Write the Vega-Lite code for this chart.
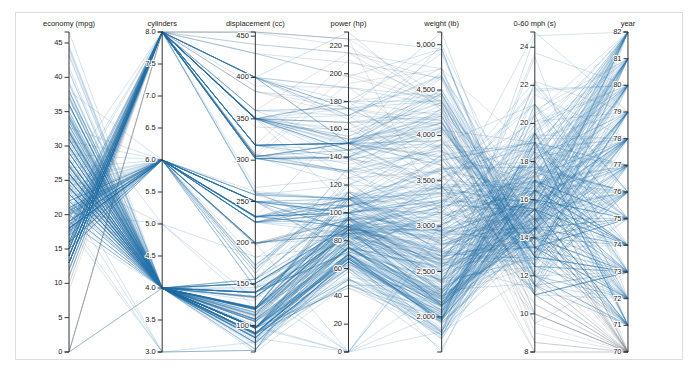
{
  "$schema": "https://vega.github.io/schema/vega-lite/v6.json",
  "width": 667,
  "height": 347,
  "autosize": "none",
  "padding": {"left": 15, "top": 12, "right": 18, "bottom": 10},
  "background": "white",
  "config": {"view": {"stroke": "#dddddd", "strokeWidth": 1}},
  "datasets": {
    "dims": [
      {"f": "mpg", "title": "economy (mpg)", "idx": 0, "min": 0, "max": 46.6},
      {"f": "cyl", "title": "cylinders", "idx": 1, "min": 3, "max": 8},
      {"f": "disp", "title": "displacement (cc)", "idx": 2, "min": 68, "max": 455},
      {"f": "hp", "title": "power (hp)", "idx": 3, "min": 0, "max": 230},
      {"f": "wt", "title": "weight (lb)", "idx": 4, "min": 1613, "max": 5140},
      {"f": "acc", "title": "0-60 mph (s)", "idx": 5, "min": 8, "max": 24.8},
      {"f": "yr", "title": "year", "idx": 6, "min": 70, "max": 82}
    ],
    "ticks": [
      {"f": "mpg", "v": 0}, {"f": "mpg", "v": 5}, {"f": "mpg", "v": 10}, {"f": "mpg", "v": 15}, {"f": "mpg", "v": 20}, {"f": "mpg", "v": 25}, {"f": "mpg", "v": 30}, {"f": "mpg", "v": 35}, {"f": "mpg", "v": 40}, {"f": "mpg", "v": 45},
      {"f": "cyl", "v": 3}, {"f": "cyl", "v": 3.5}, {"f": "cyl", "v": 4}, {"f": "cyl", "v": 4.5}, {"f": "cyl", "v": 5}, {"f": "cyl", "v": 5.5}, {"f": "cyl", "v": 6}, {"f": "cyl", "v": 6.5}, {"f": "cyl", "v": 7}, {"f": "cyl", "v": 7.5}, {"f": "cyl", "v": 8},
      {"f": "disp", "v": 100}, {"f": "disp", "v": 150}, {"f": "disp", "v": 200}, {"f": "disp", "v": 250}, {"f": "disp", "v": 300}, {"f": "disp", "v": 350}, {"f": "disp", "v": 400}, {"f": "disp", "v": 450},
      {"f": "hp", "v": 0}, {"f": "hp", "v": 20}, {"f": "hp", "v": 40}, {"f": "hp", "v": 60}, {"f": "hp", "v": 80}, {"f": "hp", "v": 100}, {"f": "hp", "v": 120}, {"f": "hp", "v": 140}, {"f": "hp", "v": 160}, {"f": "hp", "v": 180}, {"f": "hp", "v": 200}, {"f": "hp", "v": 220},
      {"f": "wt", "v": 2000}, {"f": "wt", "v": 2500}, {"f": "wt", "v": 3000}, {"f": "wt", "v": 3500}, {"f": "wt", "v": 4000}, {"f": "wt", "v": 4500}, {"f": "wt", "v": 5000},
      {"f": "acc", "v": 8}, {"f": "acc", "v": 10}, {"f": "acc", "v": 12}, {"f": "acc", "v": 14}, {"f": "acc", "v": 16}, {"f": "acc", "v": 18}, {"f": "acc", "v": 20}, {"f": "acc", "v": 22}, {"f": "acc", "v": 24},
      {"f": "yr", "v": 70}, {"f": "yr", "v": 71}, {"f": "yr", "v": 72}, {"f": "yr", "v": 73}, {"f": "yr", "v": 74}, {"f": "yr", "v": 75}, {"f": "yr", "v": 76}, {"f": "yr", "v": 77}, {"f": "yr", "v": 78}, {"f": "yr", "v": 79}, {"f": "yr", "v": 80}, {"f": "yr", "v": 81}, {"f": "yr", "v": 82}
    ],
    "cars": [
      {"mpg":18,"cyl":8,"disp":307,"hp":130,"wt":3504,"acc":12,"yr":70},
      {"mpg":15,"cyl":8,"disp":350,"hp":165,"wt":3693,"acc":11.5,"yr":70},
      {"mpg":18,"cyl":8,"disp":318,"hp":150,"wt":3436,"acc":11,"yr":70},
      {"mpg":16,"cyl":8,"disp":304,"hp":150,"wt":3433,"acc":12,"yr":70},
      {"mpg":17,"cyl":8,"disp":302,"hp":140,"wt":3449,"acc":10.5,"yr":70},
      {"mpg":15,"cyl":8,"disp":429,"hp":198,"wt":4341,"acc":10,"yr":70},
      {"mpg":14,"cyl":8,"disp":454,"hp":220,"wt":4354,"acc":9,"yr":70},
      {"mpg":14,"cyl":8,"disp":440,"hp":215,"wt":4312,"acc":8.5,"yr":70},
      {"mpg":14,"cyl":8,"disp":455,"hp":225,"wt":4425,"acc":10,"yr":70},
      {"mpg":15,"cyl":8,"disp":390,"hp":190,"wt":3850,"acc":8.5,"yr":70},
      {"mpg":0,"cyl":4,"disp":133,"hp":115,"wt":3090,"acc":17.5,"yr":70},
      {"mpg":0,"cyl":8,"disp":350,"hp":165,"wt":4142,"acc":11.5,"yr":70},
      {"mpg":0,"cyl":8,"disp":351,"hp":153,"wt":4034,"acc":11,"yr":70},
      {"mpg":0,"cyl":8,"disp":383,"hp":175,"wt":4166,"acc":10.5,"yr":70},
      {"mpg":0,"cyl":8,"disp":360,"hp":175,"wt":3850,"acc":11,"yr":70},
      {"mpg":15,"cyl":8,"disp":383,"hp":170,"wt":3563,"acc":10,"yr":70},
      {"mpg":14,"cyl":8,"disp":340,"hp":160,"wt":3609,"acc":8,"yr":70},
      {"mpg":0,"cyl":8,"disp":302,"hp":140,"wt":3353,"acc":8,"yr":70},
      {"mpg":15,"cyl":8,"disp":400,"hp":150,"wt":3761,"acc":9.5,"yr":70},
      {"mpg":14,"cyl":8,"disp":455,"hp":225,"wt":3086,"acc":10,"yr":70},
      {"mpg":24,"cyl":4,"disp":113,"hp":95,"wt":2372,"acc":15,"yr":70},
      {"mpg":22,"cyl":6,"disp":198,"hp":95,"wt":2833,"acc":15.5,"yr":70},
      {"mpg":18,"cyl":6,"disp":199,"hp":97,"wt":2774,"acc":15.5,"yr":70},
      {"mpg":21,"cyl":6,"disp":200,"hp":85,"wt":2587,"acc":16,"yr":70},
      {"mpg":27,"cyl":4,"disp":97,"hp":88,"wt":2130,"acc":14.5,"yr":70},
      {"mpg":26,"cyl":4,"disp":97,"hp":46,"wt":1835,"acc":20.5,"yr":70},
      {"mpg":25,"cyl":4,"disp":110,"hp":87,"wt":2672,"acc":17.5,"yr":70},
      {"mpg":24,"cyl":4,"disp":107,"hp":90,"wt":2430,"acc":14.5,"yr":70},
      {"mpg":25,"cyl":4,"disp":104,"hp":95,"wt":2375,"acc":17.5,"yr":70},
      {"mpg":26,"cyl":4,"disp":121,"hp":113,"wt":2234,"acc":12.5,"yr":70},
      {"mpg":21,"cyl":6,"disp":199,"hp":90,"wt":2648,"acc":15,"yr":70},
      {"mpg":10,"cyl":8,"disp":360,"hp":215,"wt":4615,"acc":14,"yr":70},
      {"mpg":10,"cyl":8,"disp":307,"hp":200,"wt":4376,"acc":15,"yr":70},
      {"mpg":11,"cyl":8,"disp":318,"hp":210,"wt":4382,"acc":13.5,"yr":70},
      {"mpg":9,"cyl":8,"disp":304,"hp":193,"wt":4732,"acc":18.5,"yr":70},
      {"mpg":27,"cyl":4,"disp":97,"hp":88,"wt":2130,"acc":14.5,"yr":71},
      {"mpg":28,"cyl":4,"disp":140,"hp":90,"wt":2264,"acc":15.5,"yr":71},
      {"mpg":25,"cyl":4,"disp":113,"hp":95,"wt":2228,"acc":14,"yr":71},
      {"mpg":25,"cyl":4,"disp":98,"hp":0,"wt":2046,"acc":19,"yr":71},
      {"mpg":0,"cyl":4,"disp":97,"hp":48,"wt":1978,"acc":20,"yr":71},
      {"mpg":19,"cyl":6,"disp":232,"hp":100,"wt":2634,"acc":13,"yr":71},
      {"mpg":16,"cyl":6,"disp":225,"hp":105,"wt":3439,"acc":15.5,"yr":71},
      {"mpg":17,"cyl":6,"disp":250,"hp":100,"wt":3329,"acc":15.5,"yr":71},
      {"mpg":19,"cyl":6,"disp":250,"hp":88,"wt":3302,"acc":15.5,"yr":71},
      {"mpg":18,"cyl":6,"disp":232,"hp":100,"wt":3288,"acc":15.5,"yr":71},
      {"mpg":14,"cyl":8,"disp":350,"hp":165,"wt":4209,"acc":12,"yr":71},
      {"mpg":14,"cyl":8,"disp":400,"hp":175,"wt":4464,"acc":11.5,"yr":71},
      {"mpg":14,"cyl":8,"disp":351,"hp":153,"wt":4154,"acc":13.5,"yr":71},
      {"mpg":14,"cyl":8,"disp":318,"hp":150,"wt":4096,"acc":13,"yr":71},
      {"mpg":12,"cyl":8,"disp":383,"hp":180,"wt":4955,"acc":11.5,"yr":71},
      {"mpg":13,"cyl":8,"disp":400,"hp":170,"wt":4746,"acc":12,"yr":71},
      {"mpg":13,"cyl":8,"disp":400,"hp":175,"wt":5140,"acc":12,"yr":71},
      {"mpg":18,"cyl":6,"disp":258,"hp":110,"wt":2962,"acc":13.5,"yr":71},
      {"mpg":22,"cyl":4,"disp":140,"hp":72,"wt":2408,"acc":19,"yr":71},
      {"mpg":19,"cyl":6,"disp":250,"hp":100,"wt":3282,"acc":15,"yr":71},
      {"mpg":18,"cyl":6,"disp":250,"hp":88,"wt":3139,"acc":14.5,"yr":71},
      {"mpg":23,"cyl":4,"disp":122,"hp":86,"wt":2220,"acc":14,"yr":71},
      {"mpg":28,"cyl":4,"disp":116,"hp":90,"wt":2123,"acc":14,"yr":71},
      {"mpg":30,"cyl":4,"disp":79,"hp":70,"wt":2074,"acc":19.5,"yr":71},
      {"mpg":30,"cyl":4,"disp":88,"hp":76,"wt":2065,"acc":14.5,"yr":71},
      {"mpg":31,"cyl":4,"disp":71,"hp":65,"wt":1773,"acc":19,"yr":71},
      {"mpg":35,"cyl":4,"disp":72,"hp":69,"wt":1613,"acc":18,"yr":71},
      {"mpg":27,"cyl":4,"disp":97,"hp":60,"wt":1834,"acc":19,"yr":71},
      {"mpg":26,"cyl":4,"disp":91,"hp":70,"wt":1955,"acc":20.5,"yr":71},
      {"mpg":24,"cyl":4,"disp":113,"hp":95,"wt":2278,"acc":15.5,"yr":72},
      {"mpg":25,"cyl":4,"disp":97.5,"hp":80,"wt":2126,"acc":17,"yr":72},
      {"mpg":23,"cyl":4,"disp":97,"hp":54,"wt":2254,"acc":23.5,"yr":72},
      {"mpg":20,"cyl":4,"disp":140,"hp":90,"wt":2408,"acc":19.5,"yr":72},
      {"mpg":21,"cyl":4,"disp":122,"hp":86,"wt":2226,"acc":16.5,"yr":72},
      {"mpg":13,"cyl":8,"disp":350,"hp":165,"wt":4274,"acc":12,"yr":72},
      {"mpg":14,"cyl":8,"disp":400,"hp":175,"wt":4385,"acc":12,"yr":72},
      {"mpg":15,"cyl":8,"disp":318,"hp":150,"wt":4135,"acc":13.5,"yr":72},
      {"mpg":14,"cyl":8,"disp":351,"hp":153,"wt":4129,"acc":13,"yr":72},
      {"mpg":17,"cyl":8,"disp":304,"hp":150,"wt":3672,"acc":11.5,"yr":72},
      {"mpg":11,"cyl":8,"disp":429,"hp":208,"wt":4633,"acc":11,"yr":72},
      {"mpg":13,"cyl":8,"disp":350,"hp":155,"wt":4502,"acc":13.5,"yr":72},
      {"mpg":12,"cyl":8,"disp":350,"hp":160,"wt":4456,"acc":13.5,"yr":72},
      {"mpg":13,"cyl":8,"disp":400,"hp":190,"wt":4422,"acc":12.5,"yr":72},
      {"mpg":19,"cyl":3,"disp":70,"hp":97,"wt":2330,"acc":13.5,"yr":72},
      {"mpg":15,"cyl":8,"disp":304,"hp":150,"wt":3892,"acc":12.5,"yr":72},
      {"mpg":13,"cyl":8,"disp":307,"hp":130,"wt":4098,"acc":14,"yr":72},
      {"mpg":13,"cyl":8,"disp":302,"hp":140,"wt":4294,"acc":16,"yr":72},
      {"mpg":14,"cyl":8,"disp":318,"hp":150,"wt":4077,"acc":14,"yr":72},
      {"mpg":18,"cyl":4,"disp":121,"hp":112,"wt":2933,"acc":14.5,"yr":72},
      {"mpg":22,"cyl":4,"disp":121,"hp":76,"wt":2511,"acc":18,"yr":72},
      {"mpg":21,"cyl":4,"disp":120,"hp":87,"wt":2979,"acc":19.5,"yr":72},
      {"mpg":26,"cyl":4,"disp":96,"hp":69,"wt":2189,"acc":18,"yr":72},
      {"mpg":22,"cyl":4,"disp":122,"hp":86,"wt":2395,"acc":16,"yr":72},
      {"mpg":28,"cyl":4,"disp":97,"hp":92,"wt":2288,"acc":17,"yr":72},
      {"mpg":23,"cyl":4,"disp":120,"hp":97,"wt":2506,"acc":14.5,"yr":72},
      {"mpg":28,"cyl":4,"disp":98,"hp":80,"wt":2164,"acc":15,"yr":72},
      {"mpg":27,"cyl":4,"disp":97,"hp":88,"wt":2100,"acc":16.5,"yr":72},
      {"mpg":13,"cyl":8,"disp":350,"hp":175,"wt":4100,"acc":13,"yr":73},
      {"mpg":14,"cyl":8,"disp":304,"hp":150,"wt":3672,"acc":11.5,"yr":73},
      {"mpg":13,"cyl":8,"disp":350,"hp":145,"wt":3988,"acc":13,"yr":73},
      {"mpg":14,"cyl":8,"disp":302,"hp":137,"wt":4042,"acc":14.5,"yr":73},
      {"mpg":15,"cyl":8,"disp":318,"hp":150,"wt":3777,"acc":12.5,"yr":73},
      {"mpg":12,"cyl":8,"disp":429,"hp":198,"wt":4952,"acc":11.5,"yr":73},
      {"mpg":13,"cyl":8,"disp":400,"hp":150,"wt":4464,"acc":12,"yr":73},
      {"mpg":13,"cyl":8,"disp":351,"hp":158,"wt":4363,"acc":13,"yr":73},
      {"mpg":14,"cyl":8,"disp":318,"hp":150,"wt":4237,"acc":14.5,"yr":73},
      {"mpg":13,"cyl":8,"disp":440,"hp":215,"wt":4735,"acc":11,"yr":73},
      {"mpg":12,"cyl":8,"disp":455,"hp":225,"wt":4951,"acc":11,"yr":73},
      {"mpg":13,"cyl":8,"disp":360,"hp":175,"wt":3821,"acc":11,"yr":73},
      {"mpg":18,"cyl":6,"disp":225,"hp":105,"wt":3121,"acc":16.5,"yr":73},
      {"mpg":16,"cyl":6,"disp":250,"hp":100,"wt":3278,"acc":18,"yr":73},
      {"mpg":18,"cyl":6,"disp":232,"hp":100,"wt":2945,"acc":16,"yr":73},
      {"mpg":18,"cyl":6,"disp":250,"hp":88,"wt":3021,"acc":16.5,"yr":73},
      {"mpg":23,"cyl":6,"disp":198,"hp":95,"wt":2904,"acc":16,"yr":73},
      {"mpg":26,"cyl":4,"disp":97,"hp":46,"wt":1950,"acc":21,"yr":73},
      {"mpg":11,"cyl":8,"disp":400,"hp":150,"wt":4997,"acc":14,"yr":73},
      {"mpg":12,"cyl":8,"disp":400,"hp":167,"wt":4906,"acc":12.5,"yr":73},
      {"mpg":13,"cyl":8,"disp":360,"hp":170,"wt":4654,"acc":13,"yr":73},
      {"mpg":12,"cyl":8,"disp":350,"hp":180,"wt":4499,"acc":12.5,"yr":73},
      {"mpg":18,"cyl":6,"disp":232,"hp":100,"wt":2789,"acc":15,"yr":73},
      {"mpg":20,"cyl":4,"disp":97,"hp":88,"wt":2279,"acc":19,"yr":73},
      {"mpg":21,"cyl":4,"disp":140,"hp":72,"wt":2401,"acc":19.5,"yr":73},
      {"mpg":22,"cyl":4,"disp":108,"hp":94,"wt":2379,"acc":16.5,"yr":73},
      {"mpg":18,"cyl":3,"disp":70,"hp":90,"wt":2124,"acc":13.5,"yr":73},
      {"mpg":19,"cyl":4,"disp":122,"hp":85,"wt":2310,"acc":18.5,"yr":73},
      {"mpg":21,"cyl":6,"disp":155,"hp":107,"wt":2472,"acc":14,"yr":73},
      {"mpg":26,"cyl":4,"disp":98,"hp":90,"wt":2265,"acc":15.5,"yr":73},
      {"mpg":15,"cyl":8,"disp":350,"hp":145,"wt":4082,"acc":13,"yr":73},
      {"mpg":16,"cyl":8,"disp":400,"hp":230,"wt":4278,"acc":9.5,"yr":73},
      {"mpg":29,"cyl":4,"disp":68,"hp":49,"wt":1867,"acc":19.5,"yr":73},
      {"mpg":24,"cyl":4,"disp":116,"hp":75,"wt":2158,"acc":15.5,"yr":73},
      {"mpg":20,"cyl":4,"disp":114,"hp":91,"wt":2582,"acc":14,"yr":73},
      {"mpg":19,"cyl":4,"disp":121,"hp":112,"wt":2868,"acc":15.5,"yr":73},
      {"mpg":15,"cyl":8,"disp":318,"hp":150,"wt":3399,"acc":11,"yr":73},
      {"mpg":24,"cyl":4,"disp":121,"hp":110,"wt":2660,"acc":14,"yr":73},
      {"mpg":20,"cyl":6,"disp":156,"hp":122,"wt":2807,"acc":13.5,"yr":73},
      {"mpg":11,"cyl":8,"disp":350,"hp":180,"wt":3664,"acc":11,"yr":73},
      {"mpg":20,"cyl":6,"disp":198,"hp":95,"wt":3102,"acc":16.5,"yr":74},
      {"mpg":21,"cyl":6,"disp":200,"hp":0,"wt":2875,"acc":17,"yr":74},
      {"mpg":19,"cyl":6,"disp":232,"hp":100,"wt":2901,"acc":16,"yr":74},
      {"mpg":15,"cyl":6,"disp":250,"hp":100,"wt":3336,"acc":17,"yr":74},
      {"mpg":31,"cyl":4,"disp":79,"hp":67,"wt":1950,"acc":19,"yr":74},
      {"mpg":26,"cyl":4,"disp":122,"hp":80,"wt":2451,"acc":16.5,"yr":74},
      {"mpg":32,"cyl":4,"disp":71,"hp":65,"wt":1836,"acc":21,"yr":74},
      {"mpg":25,"cyl":4,"disp":140,"hp":75,"wt":2542,"acc":17,"yr":74},
      {"mpg":16,"cyl":6,"disp":250,"hp":100,"wt":3781,"acc":17,"yr":74},
      {"mpg":16,"cyl":6,"disp":258,"hp":110,"wt":3632,"acc":18,"yr":74},
      {"mpg":18,"cyl":6,"disp":225,"hp":105,"wt":3613,"acc":16.5,"yr":74},
      {"mpg":16,"cyl":8,"disp":302,"hp":140,"wt":4141,"acc":14,"yr":74},
      {"mpg":13,"cyl":8,"disp":350,"hp":150,"wt":4699,"acc":14.5,"yr":74},
      {"mpg":14,"cyl":8,"disp":318,"hp":150,"wt":4457,"acc":13.5,"yr":74},
      {"mpg":14,"cyl":8,"disp":302,"hp":140,"wt":4638,"acc":16,"yr":74},
      {"mpg":14,"cyl":8,"disp":304,"hp":150,"wt":4257,"acc":15.5,"yr":74},
      {"mpg":29,"cyl":4,"disp":98,"hp":83,"wt":2219,"acc":16.5,"yr":74},
      {"mpg":26,"cyl":4,"disp":79,"hp":67,"wt":1963,"acc":15.5,"yr":74},
      {"mpg":26,"cyl":4,"disp":97,"hp":78,"wt":2300,"acc":14.5,"yr":74},
      {"mpg":31,"cyl":4,"disp":76,"hp":52,"wt":1649,"acc":16.5,"yr":74},
      {"mpg":32,"cyl":4,"disp":83,"hp":61,"wt":2003,"acc":19,"yr":74},
      {"mpg":28,"cyl":4,"disp":90,"hp":75,"wt":2125,"acc":14.5,"yr":74},
      {"mpg":24,"cyl":4,"disp":90,"hp":75,"wt":2108,"acc":15.5,"yr":74},
      {"mpg":26,"cyl":4,"disp":116,"hp":75,"wt":2246,"acc":14,"yr":74},
      {"mpg":24,"cyl":4,"disp":120,"hp":97,"wt":2489,"acc":15,"yr":74},
      {"mpg":26,"cyl":4,"disp":108,"hp":93,"wt":2391,"acc":15.5,"yr":74},
      {"mpg":31,"cyl":4,"disp":79,"hp":67,"wt":2000,"acc":16,"yr":74},
      {"mpg":19,"cyl":6,"disp":225,"hp":95,"wt":3264,"acc":16,"yr":75},
      {"mpg":18,"cyl":6,"disp":250,"hp":105,"wt":3459,"acc":16,"yr":75},
      {"mpg":15,"cyl":6,"disp":250,"hp":72,"wt":3432,"acc":21,"yr":75},
      {"mpg":15,"cyl":6,"disp":250,"hp":72,"wt":3158,"acc":19.5,"yr":75},
      {"mpg":16,"cyl":8,"disp":400,"hp":170,"wt":4668,"acc":11.5,"yr":75},
      {"mpg":15,"cyl":8,"disp":350,"hp":145,"wt":4440,"acc":14,"yr":75},
      {"mpg":16,"cyl":8,"disp":318,"hp":150,"wt":4498,"acc":14.5,"yr":75},
      {"mpg":14,"cyl":8,"disp":351,"hp":148,"wt":4657,"acc":13.5,"yr":75},
      {"mpg":17,"cyl":6,"disp":231,"hp":110,"wt":3907,"acc":21,"yr":75},
      {"mpg":16,"cyl":6,"disp":250,"hp":105,"wt":3897,"acc":18.5,"yr":75},
      {"mpg":15,"cyl":6,"disp":258,"hp":110,"wt":3730,"acc":19,"yr":75},
      {"mpg":18,"cyl":6,"disp":225,"hp":95,"wt":3785,"acc":19,"yr":75},
      {"mpg":21,"cyl":6,"disp":231,"hp":110,"wt":3039,"acc":15,"yr":75},
      {"mpg":20,"cyl":8,"disp":262,"hp":110,"wt":3221,"acc":13.5,"yr":75},
      {"mpg":13,"cyl":8,"disp":302,"hp":129,"wt":3169,"acc":12,"yr":75},
      {"mpg":29,"cyl":4,"disp":97,"hp":75,"wt":2171,"acc":16,"yr":75},
      {"mpg":23,"cyl":4,"disp":140,"hp":83,"wt":2639,"acc":17,"yr":75},
      {"mpg":20,"cyl":6,"disp":232,"hp":100,"wt":2914,"acc":16,"yr":75},
      {"mpg":23,"cyl":4,"disp":140,"hp":78,"wt":2592,"acc":18.5,"yr":75},
      {"mpg":24,"cyl":4,"disp":134,"hp":96,"wt":2702,"acc":13.5,"yr":75},
      {"mpg":25,"cyl":4,"disp":90,"hp":71,"wt":2223,"acc":16.5,"yr":75},
      {"mpg":24,"cyl":4,"disp":119,"hp":97,"wt":2545,"acc":17,"yr":75},
      {"mpg":18,"cyl":6,"disp":171,"hp":97,"wt":2984,"acc":14.5,"yr":75},
      {"mpg":29,"cyl":4,"disp":90,"hp":70,"wt":1937,"acc":14,"yr":75},
      {"mpg":19,"cyl":6,"disp":232,"hp":90,"wt":3211,"acc":17,"yr":75},
      {"mpg":23,"cyl":4,"disp":115,"hp":95,"wt":2694,"acc":15,"yr":75},
      {"mpg":23,"cyl":4,"disp":120,"hp":88,"wt":2957,"acc":17,"yr":75},
      {"mpg":22,"cyl":4,"disp":121,"hp":98,"wt":2945,"acc":14.5,"yr":75},
      {"mpg":25,"cyl":4,"disp":121,"hp":115,"wt":2671,"acc":13.5,"yr":75},
      {"mpg":33,"cyl":4,"disp":91,"hp":53,"wt":1795,"acc":17.5,"yr":75},
      {"mpg":28,"cyl":4,"disp":107,"hp":86,"wt":2464,"acc":15.5,"yr":76},
      {"mpg":25,"cyl":4,"disp":116,"hp":81,"wt":2220,"acc":16.9,"yr":76},
      {"mpg":25,"cyl":4,"disp":140,"hp":92,"wt":2572,"acc":14.9,"yr":76},
      {"mpg":26,"cyl":4,"disp":98,"hp":79,"wt":2255,"acc":17.7,"yr":76},
      {"mpg":27,"cyl":4,"disp":101,"hp":83,"wt":2202,"acc":15.3,"yr":76},
      {"mpg":17.5,"cyl":8,"disp":305,"hp":140,"wt":4215,"acc":13,"yr":76},
      {"mpg":16,"cyl":8,"disp":318,"hp":150,"wt":4190,"acc":13,"yr":76},
      {"mpg":15.5,"cyl":8,"disp":304,"hp":120,"wt":3962,"acc":13.9,"yr":76},
      {"mpg":14.5,"cyl":8,"disp":351,"hp":152,"wt":4215,"acc":12.8,"yr":76},
      {"mpg":22,"cyl":6,"disp":225,"hp":100,"wt":3233,"acc":15.4,"yr":76},
      {"mpg":22,"cyl":6,"disp":250,"hp":105,"wt":3353,"acc":14.5,"yr":76},
      {"mpg":24,"cyl":6,"disp":200,"hp":81,"wt":3012,"acc":17.6,"yr":76},
      {"mpg":22.5,"cyl":6,"disp":232,"hp":90,"wt":3085,"acc":17.6,"yr":76},
      {"mpg":29,"cyl":4,"disp":85,"hp":52,"wt":2035,"acc":22.2,"yr":76},
      {"mpg":24.5,"cyl":4,"disp":98,"hp":60,"wt":2164,"acc":22.1,"yr":76},
      {"mpg":29,"cyl":4,"disp":90,"hp":70,"wt":1937,"acc":14.2,"yr":76},
      {"mpg":33,"cyl":4,"disp":91,"hp":53,"wt":1795,"acc":17.4,"yr":76},
      {"mpg":20,"cyl":6,"disp":225,"hp":100,"wt":3651,"acc":17.7,"yr":76},
      {"mpg":18,"cyl":6,"disp":250,"hp":78,"wt":3574,"acc":21,"yr":76},
      {"mpg":18.5,"cyl":6,"disp":250,"hp":110,"wt":3645,"acc":16.2,"yr":76},
      {"mpg":17.5,"cyl":6,"disp":258,"hp":95,"wt":3193,"acc":17.8,"yr":76},
      {"mpg":29.5,"cyl":4,"disp":97,"hp":71,"wt":1825,"acc":12.2,"yr":76},
      {"mpg":32,"cyl":4,"disp":85,"hp":70,"wt":1990,"acc":17,"yr":76},
      {"mpg":28,"cyl":4,"disp":97,"hp":75,"wt":2155,"acc":16.4,"yr":76},
      {"mpg":26.5,"cyl":4,"disp":140,"hp":72,"wt":2565,"acc":13.6,"yr":76},
      {"mpg":20,"cyl":4,"disp":130,"hp":102,"wt":3150,"acc":15.7,"yr":76},
      {"mpg":13,"cyl":8,"disp":318,"hp":150,"wt":3940,"acc":13.2,"yr":76},
      {"mpg":19,"cyl":4,"disp":120,"hp":88,"wt":3270,"acc":21.9,"yr":76},
      {"mpg":19,"cyl":6,"disp":156,"hp":108,"wt":2930,"acc":15.5,"yr":76},
      {"mpg":16.5,"cyl":6,"disp":168,"hp":120,"wt":3820,"acc":16.7,"yr":76},
      {"mpg":16.5,"cyl":8,"disp":350,"hp":180,"wt":4380,"acc":12.1,"yr":76},
      {"mpg":13,"cyl":8,"disp":350,"hp":145,"wt":4055,"acc":12,"yr":76},
      {"mpg":13,"cyl":8,"disp":302,"hp":130,"wt":3870,"acc":15,"yr":76},
      {"mpg":13,"cyl":8,"disp":318,"hp":150,"wt":3755,"acc":14,"yr":76},
      {"mpg":31.5,"cyl":4,"disp":98,"hp":68,"wt":2045,"acc":18.5,"yr":77},
      {"mpg":30,"cyl":4,"disp":111,"hp":80,"wt":2155,"acc":14.8,"yr":77},
      {"mpg":36,"cyl":4,"disp":79,"hp":58,"wt":1825,"acc":18.6,"yr":77},
      {"mpg":25.5,"cyl":4,"disp":122,"hp":96,"wt":2300,"acc":15.5,"yr":77},
      {"mpg":33.5,"cyl":4,"disp":85,"hp":70,"wt":1945,"acc":16.8,"yr":77},
      {"mpg":17.5,"cyl":8,"disp":305,"hp":145,"wt":3880,"acc":12.5,"yr":77},
      {"mpg":17,"cyl":8,"disp":260,"hp":110,"wt":4060,"acc":19,"yr":77},
      {"mpg":15.5,"cyl":8,"disp":318,"hp":145,"wt":4140,"acc":13.7,"yr":77},
      {"mpg":15,"cyl":8,"disp":302,"hp":130,"wt":4295,"acc":14.9,"yr":77},
      {"mpg":17.5,"cyl":6,"disp":250,"hp":110,"wt":3520,"acc":16.4,"yr":77},
      {"mpg":20.5,"cyl":6,"disp":231,"hp":105,"wt":3425,"acc":16.9,"yr":77},
      {"mpg":19,"cyl":6,"disp":225,"hp":100,"wt":3630,"acc":17.7,"yr":77},
      {"mpg":18.5,"cyl":6,"disp":250,"hp":98,"wt":3525,"acc":19,"yr":77},
      {"mpg":16,"cyl":8,"disp":400,"hp":180,"wt":4220,"acc":11.1,"yr":77},
      {"mpg":15.5,"cyl":8,"disp":350,"hp":170,"wt":4165,"acc":11.4,"yr":77},
      {"mpg":15.5,"cyl":8,"disp":400,"hp":190,"wt":4325,"acc":12.2,"yr":77},
      {"mpg":16,"cyl":8,"disp":351,"hp":149,"wt":4335,"acc":14.5,"yr":77},
      {"mpg":29,"cyl":4,"disp":97,"hp":78,"wt":1940,"acc":14.5,"yr":77},
      {"mpg":24.5,"cyl":4,"disp":151,"hp":88,"wt":2740,"acc":16,"yr":77},
      {"mpg":26,"cyl":4,"disp":97,"hp":75,"wt":2265,"acc":18.2,"yr":77},
      {"mpg":25.5,"cyl":4,"disp":140,"hp":89,"wt":2755,"acc":15.8,"yr":77},
      {"mpg":30.5,"cyl":4,"disp":98,"hp":63,"wt":2051,"acc":17,"yr":77},
      {"mpg":33.5,"cyl":4,"disp":98,"hp":83,"wt":2075,"acc":15.9,"yr":77},
      {"mpg":30,"cyl":4,"disp":97,"hp":67,"wt":1985,"acc":16.4,"yr":77},
      {"mpg":30.5,"cyl":4,"disp":97,"hp":78,"wt":2190,"acc":14.1,"yr":77},
      {"mpg":22,"cyl":6,"disp":146,"hp":97,"wt":2815,"acc":14.5,"yr":77},
      {"mpg":21.5,"cyl":4,"disp":121,"hp":110,"wt":2600,"acc":12.8,"yr":77},
      {"mpg":21.5,"cyl":3,"disp":80,"hp":110,"wt":2720,"acc":13.5,"yr":77},
      {"mpg":43.1,"cyl":4,"disp":90,"hp":48,"wt":1985,"acc":21.5,"yr":78},
      {"mpg":36.1,"cyl":4,"disp":98,"hp":66,"wt":1800,"acc":14.4,"yr":78},
      {"mpg":32.8,"cyl":4,"disp":78,"hp":52,"wt":1985,"acc":19.4,"yr":78},
      {"mpg":39.4,"cyl":4,"disp":85,"hp":70,"wt":2070,"acc":18.6,"yr":78},
      {"mpg":36.1,"cyl":4,"disp":91,"hp":60,"wt":1800,"acc":16.4,"yr":78},
      {"mpg":19.9,"cyl":8,"disp":260,"hp":110,"wt":3365,"acc":15.5,"yr":78},
      {"mpg":19.4,"cyl":8,"disp":318,"hp":140,"wt":3735,"acc":13.2,"yr":78},
      {"mpg":20.2,"cyl":8,"disp":302,"hp":139,"wt":3570,"acc":12.8,"yr":78},
      {"mpg":19.2,"cyl":6,"disp":231,"hp":105,"wt":3535,"acc":19.2,"yr":78},
      {"mpg":20.5,"cyl":6,"disp":200,"hp":95,"wt":3155,"acc":18.2,"yr":78},
      {"mpg":20.2,"cyl":6,"disp":200,"hp":85,"wt":2965,"acc":15.8,"yr":78},
      {"mpg":25.1,"cyl":4,"disp":140,"hp":88,"wt":2720,"acc":15.4,"yr":78},
      {"mpg":20.5,"cyl":6,"disp":225,"hp":100,"wt":3430,"acc":17.2,"yr":78},
      {"mpg":19.4,"cyl":6,"disp":232,"hp":90,"wt":3210,"acc":17.2,"yr":78},
      {"mpg":20.6,"cyl":6,"disp":231,"hp":105,"wt":3380,"acc":15.8,"yr":78},
      {"mpg":20.8,"cyl":6,"disp":200,"hp":85,"wt":3070,"acc":16.7,"yr":78},
      {"mpg":18.6,"cyl":6,"disp":225,"hp":110,"wt":3620,"acc":18.7,"yr":78},
      {"mpg":18.1,"cyl":6,"disp":258,"hp":120,"wt":3410,"acc":15.1,"yr":78},
      {"mpg":19.2,"cyl":8,"disp":305,"hp":145,"wt":3425,"acc":13.2,"yr":78},
      {"mpg":17.7,"cyl":6,"disp":231,"hp":165,"wt":3445,"acc":13.4,"yr":78},
      {"mpg":18.1,"cyl":8,"disp":302,"hp":139,"wt":3205,"acc":11.2,"yr":78},
      {"mpg":17.5,"cyl":8,"disp":318,"hp":140,"wt":4080,"acc":13.7,"yr":78},
      {"mpg":30,"cyl":4,"disp":98,"hp":68,"wt":2155,"acc":16.5,"yr":78},
      {"mpg":27.5,"cyl":4,"disp":134,"hp":95,"wt":2560,"acc":14.2,"yr":78},
      {"mpg":27.2,"cyl":4,"disp":119,"hp":97,"wt":2300,"acc":14.7,"yr":78},
      {"mpg":30.9,"cyl":4,"disp":105,"hp":75,"wt":2230,"acc":14.5,"yr":78},
      {"mpg":21.1,"cyl":4,"disp":134,"hp":95,"wt":2515,"acc":14.8,"yr":78},
      {"mpg":23.2,"cyl":4,"disp":156,"hp":105,"wt":2745,"acc":16.7,"yr":78},
      {"mpg":23.8,"cyl":4,"disp":151,"hp":85,"wt":2855,"acc":17.6,"yr":78},
      {"mpg":23.9,"cyl":4,"disp":119,"hp":97,"wt":2405,"acc":14.9,"yr":78},
      {"mpg":20.3,"cyl":5,"disp":131,"hp":103,"wt":2830,"acc":15.9,"yr":78},
      {"mpg":17,"cyl":6,"disp":163,"hp":125,"wt":3140,"acc":13.6,"yr":78},
      {"mpg":21.6,"cyl":4,"disp":121,"hp":115,"wt":2795,"acc":15.7,"yr":78},
      {"mpg":16.2,"cyl":6,"disp":163,"hp":133,"wt":3410,"acc":15.8,"yr":78},
      {"mpg":31.5,"cyl":4,"disp":89,"hp":71,"wt":1990,"acc":14.9,"yr":78},
      {"mpg":29.5,"cyl":4,"disp":98,"hp":68,"wt":2135,"acc":16.6,"yr":78},
      {"mpg":21.5,"cyl":6,"disp":231,"hp":115,"wt":3245,"acc":15.4,"yr":79},
      {"mpg":19.8,"cyl":6,"disp":200,"hp":85,"wt":2990,"acc":18.2,"yr":79},
      {"mpg":22.3,"cyl":4,"disp":140,"hp":88,"wt":2890,"acc":17.3,"yr":79},
      {"mpg":20.2,"cyl":6,"disp":232,"hp":90,"wt":3265,"acc":18.2,"yr":79},
      {"mpg":20.6,"cyl":6,"disp":225,"hp":110,"wt":3360,"acc":16.6,"yr":79},
      {"mpg":17,"cyl":8,"disp":305,"hp":130,"wt":3840,"acc":15.4,"yr":79},
      {"mpg":17.6,"cyl":8,"disp":302,"hp":129,"wt":3725,"acc":13.4,"yr":79},
      {"mpg":16.5,"cyl":8,"disp":351,"hp":138,"wt":3955,"acc":13.2,"yr":79},
      {"mpg":18.2,"cyl":8,"disp":318,"hp":135,"wt":3830,"acc":15.2,"yr":79},
      {"mpg":16.9,"cyl":8,"disp":350,"hp":155,"wt":4360,"acc":14.9,"yr":79},
      {"mpg":15.5,"cyl":8,"disp":351,"hp":142,"wt":4054,"acc":14.3,"yr":79},
      {"mpg":19.2,"cyl":8,"disp":267,"hp":125,"wt":3605,"acc":15,"yr":79},
      {"mpg":18.5,"cyl":8,"disp":360,"hp":150,"wt":3940,"acc":13,"yr":79},
      {"mpg":31.9,"cyl":4,"disp":89,"hp":71,"wt":1925,"acc":14,"yr":79},
      {"mpg":34.1,"cyl":4,"disp":86,"hp":65,"wt":1975,"acc":15.2,"yr":79},
      {"mpg":35.7,"cyl":4,"disp":98,"hp":80,"wt":1915,"acc":14.4,"yr":79},
      {"mpg":27.4,"cyl":4,"disp":121,"hp":80,"wt":2670,"acc":15,"yr":79},
      {"mpg":25.4,"cyl":5,"disp":183,"hp":77,"wt":3530,"acc":20.1,"yr":79},
      {"mpg":23,"cyl":8,"disp":350,"hp":125,"wt":3900,"acc":17.4,"yr":79},
      {"mpg":27.2,"cyl":4,"disp":141,"hp":71,"wt":3190,"acc":24.8,"yr":79},
      {"mpg":23.9,"cyl":8,"disp":260,"hp":90,"wt":3420,"acc":22.2,"yr":79},
      {"mpg":34.2,"cyl":4,"disp":105,"hp":70,"wt":2200,"acc":13.2,"yr":79},
      {"mpg":34.5,"cyl":4,"disp":105,"hp":70,"wt":2150,"acc":14.9,"yr":79},
      {"mpg":31.8,"cyl":4,"disp":85,"hp":65,"wt":2020,"acc":19.2,"yr":79},
      {"mpg":37.3,"cyl":4,"disp":91,"hp":69,"wt":2130,"acc":14.7,"yr":79},
      {"mpg":28.4,"cyl":4,"disp":151,"hp":90,"wt":2670,"acc":16,"yr":79},
      {"mpg":28.8,"cyl":6,"disp":173,"hp":115,"wt":2595,"acc":11.3,"yr":79},
      {"mpg":26.8,"cyl":6,"disp":173,"hp":115,"wt":2700,"acc":12.9,"yr":79},
      {"mpg":33.5,"cyl":4,"disp":151,"hp":90,"wt":2556,"acc":13.2,"yr":79},
      {"mpg":41.5,"cyl":4,"disp":98,"hp":76,"wt":2144,"acc":14.7,"yr":80},
      {"mpg":38.1,"cyl":4,"disp":89,"hp":60,"wt":1968,"acc":18.8,"yr":80},
      {"mpg":32.1,"cyl":4,"disp":98,"hp":70,"wt":2120,"acc":15.5,"yr":80},
      {"mpg":37.2,"cyl":4,"disp":86,"hp":65,"wt":2019,"acc":16.4,"yr":80},
      {"mpg":28,"cyl":4,"disp":151,"hp":90,"wt":2678,"acc":16.5,"yr":80},
      {"mpg":26.4,"cyl":4,"disp":140,"hp":88,"wt":2870,"acc":18.1,"yr":80},
      {"mpg":24.3,"cyl":4,"disp":151,"hp":90,"wt":3003,"acc":20.1,"yr":80},
      {"mpg":19.1,"cyl":6,"disp":225,"hp":90,"wt":3381,"acc":18.7,"yr":80},
      {"mpg":34.3,"cyl":4,"disp":97,"hp":78,"wt":2188,"acc":15.8,"yr":80},
      {"mpg":29.8,"cyl":4,"disp":134,"hp":90,"wt":2711,"acc":15.5,"yr":80},
      {"mpg":31.3,"cyl":4,"disp":120,"hp":75,"wt":2542,"acc":17.5,"yr":80},
      {"mpg":37,"cyl":4,"disp":119,"hp":92,"wt":2434,"acc":15,"yr":80},
      {"mpg":32.2,"cyl":4,"disp":108,"hp":75,"wt":2265,"acc":15.2,"yr":80},
      {"mpg":46.6,"cyl":4,"disp":86,"hp":65,"wt":2110,"acc":17.9,"yr":80},
      {"mpg":27.9,"cyl":4,"disp":156,"hp":105,"wt":2800,"acc":14.4,"yr":80},
      {"mpg":40.8,"cyl":4,"disp":85,"hp":65,"wt":2110,"acc":19.2,"yr":80},
      {"mpg":44.3,"cyl":4,"disp":90,"hp":48,"wt":2085,"acc":21.7,"yr":80},
      {"mpg":43.4,"cyl":4,"disp":90,"hp":48,"wt":2335,"acc":23.7,"yr":80},
      {"mpg":36.4,"cyl":5,"disp":121,"hp":67,"wt":2950,"acc":19.9,"yr":80},
      {"mpg":30,"cyl":4,"disp":146,"hp":67,"wt":3250,"acc":21.8,"yr":80},
      {"mpg":44.6,"cyl":4,"disp":91,"hp":67,"wt":1850,"acc":13.8,"yr":80},
      {"mpg":40.9,"cyl":4,"disp":85,"hp":0,"wt":1835,"acc":17.3,"yr":80},
      {"mpg":33.8,"cyl":4,"disp":97,"hp":67,"wt":2145,"acc":18,"yr":80},
      {"mpg":29.8,"cyl":4,"disp":89,"hp":62,"wt":1845,"acc":15.3,"yr":80},
      {"mpg":32.7,"cyl":6,"disp":168,"hp":132,"wt":2910,"acc":11.4,"yr":80},
      {"mpg":23.7,"cyl":3,"disp":70,"hp":100,"wt":2420,"acc":12.5,"yr":80},
      {"mpg":35,"cyl":4,"disp":122,"hp":88,"wt":2500,"acc":15.1,"yr":80},
      {"mpg":23.6,"cyl":4,"disp":140,"hp":0,"wt":2905,"acc":14.3,"yr":80},
      {"mpg":32.4,"cyl":4,"disp":107,"hp":72,"wt":2290,"acc":17,"yr":80},
      {"mpg":27.2,"cyl":4,"disp":135,"hp":84,"wt":2490,"acc":15.7,"yr":81},
      {"mpg":26.6,"cyl":4,"disp":151,"hp":84,"wt":2635,"acc":16.4,"yr":81},
      {"mpg":25.8,"cyl":4,"disp":156,"hp":92,"wt":2620,"acc":14.4,"yr":81},
      {"mpg":23.5,"cyl":6,"disp":173,"hp":110,"wt":2725,"acc":12.6,"yr":81},
      {"mpg":30,"cyl":4,"disp":135,"hp":84,"wt":2385,"acc":12.9,"yr":81},
      {"mpg":39.1,"cyl":4,"disp":79,"hp":58,"wt":1755,"acc":16.9,"yr":81},
      {"mpg":39,"cyl":4,"disp":86,"hp":64,"wt":1875,"acc":16.4,"yr":81},
      {"mpg":35.1,"cyl":4,"disp":81,"hp":60,"wt":1760,"acc":16.1,"yr":81},
      {"mpg":32.3,"cyl":4,"disp":97,"hp":67,"wt":2065,"acc":17.8,"yr":81},
      {"mpg":37,"cyl":4,"disp":85,"hp":65,"wt":1975,"acc":19.4,"yr":81},
      {"mpg":37.7,"cyl":4,"disp":89,"hp":62,"wt":2050,"acc":17.3,"yr":81},
      {"mpg":34.1,"cyl":4,"disp":91,"hp":68,"wt":1985,"acc":16,"yr":81},
      {"mpg":34.7,"cyl":4,"disp":105,"hp":63,"wt":2215,"acc":14.9,"yr":81},
      {"mpg":34.4,"cyl":4,"disp":98,"hp":65,"wt":2045,"acc":16.2,"yr":81},
      {"mpg":29.9,"cyl":4,"disp":98,"hp":65,"wt":2380,"acc":20.7,"yr":81},
      {"mpg":33,"cyl":4,"disp":105,"hp":74,"wt":2190,"acc":14.2,"yr":81},
      {"mpg":34.5,"cyl":4,"disp":100,"hp":0,"wt":2320,"acc":15.8,"yr":81},
      {"mpg":33.7,"cyl":4,"disp":107,"hp":75,"wt":2210,"acc":14.4,"yr":81},
      {"mpg":32.4,"cyl":4,"disp":108,"hp":75,"wt":2350,"acc":16.8,"yr":81},
      {"mpg":32.9,"cyl":4,"disp":119,"hp":100,"wt":2615,"acc":14.8,"yr":81},
      {"mpg":31.6,"cyl":4,"disp":120,"hp":74,"wt":2635,"acc":18.3,"yr":81},
      {"mpg":28.1,"cyl":4,"disp":141,"hp":80,"wt":3230,"acc":20.4,"yr":81},
      {"mpg":0,"cyl":4,"disp":121,"hp":110,"wt":2800,"acc":15.4,"yr":81},
      {"mpg":30.7,"cyl":6,"disp":145,"hp":76,"wt":3160,"acc":19.6,"yr":81},
      {"mpg":25.4,"cyl":6,"disp":168,"hp":116,"wt":2900,"acc":12.6,"yr":81},
      {"mpg":24.2,"cyl":6,"disp":146,"hp":120,"wt":2930,"acc":13.8,"yr":81},
      {"mpg":22.4,"cyl":6,"disp":231,"hp":110,"wt":3415,"acc":15.8,"yr":81},
      {"mpg":26.6,"cyl":8,"disp":350,"hp":105,"wt":3725,"acc":19,"yr":81},
      {"mpg":20.2,"cyl":6,"disp":200,"hp":88,"wt":3060,"acc":17.1,"yr":81},
      {"mpg":17.6,"cyl":6,"disp":225,"hp":85,"wt":3465,"acc":16.6,"yr":81},
      {"mpg":28,"cyl":4,"disp":112,"hp":88,"wt":2605,"acc":19.6,"yr":82},
      {"mpg":27,"cyl":4,"disp":112,"hp":88,"wt":2640,"acc":18.6,"yr":82},
      {"mpg":34,"cyl":4,"disp":112,"hp":88,"wt":2395,"acc":18,"yr":82},
      {"mpg":31,"cyl":4,"disp":112,"hp":85,"wt":2575,"acc":16.2,"yr":82},
      {"mpg":29,"cyl":4,"disp":135,"hp":84,"wt":2525,"acc":16,"yr":82},
      {"mpg":27,"cyl":4,"disp":151,"hp":90,"wt":2735,"acc":18,"yr":82},
      {"mpg":24,"cyl":4,"disp":140,"hp":92,"wt":2865,"acc":16.4,"yr":82},
      {"mpg":23,"cyl":4,"disp":151,"hp":0,"wt":3035,"acc":20.5,"yr":82},
      {"mpg":36,"cyl":4,"disp":105,"hp":74,"wt":1980,"acc":15.3,"yr":82},
      {"mpg":37,"cyl":4,"disp":91,"hp":68,"wt":2025,"acc":18.2,"yr":82},
      {"mpg":31,"cyl":4,"disp":91,"hp":68,"wt":1970,"acc":17.6,"yr":82},
      {"mpg":38,"cyl":4,"disp":105,"hp":63,"wt":2125,"acc":14.7,"yr":82},
      {"mpg":36,"cyl":4,"disp":98,"hp":70,"wt":2125,"acc":17.3,"yr":82},
      {"mpg":36,"cyl":4,"disp":120,"hp":88,"wt":2160,"acc":14.5,"yr":82},
      {"mpg":36,"cyl":4,"disp":107,"hp":75,"wt":2205,"acc":14.5,"yr":82},
      {"mpg":34,"cyl":4,"disp":108,"hp":70,"wt":2245,"acc":16.9,"yr":82},
      {"mpg":38,"cyl":4,"disp":91,"hp":67,"wt":1965,"acc":15,"yr":82},
      {"mpg":32,"cyl":4,"disp":91,"hp":67,"wt":1965,"acc":15.7,"yr":82},
      {"mpg":38,"cyl":4,"disp":91,"hp":67,"wt":1995,"acc":16.2,"yr":82},
      {"mpg":25,"cyl":6,"disp":181,"hp":110,"wt":2945,"acc":16.4,"yr":82},
      {"mpg":38,"cyl":6,"disp":262,"hp":85,"wt":3015,"acc":17,"yr":82},
      {"mpg":26,"cyl":4,"disp":156,"hp":92,"wt":2585,"acc":14.5,"yr":82},
      {"mpg":22,"cyl":6,"disp":232,"hp":112,"wt":2835,"acc":14.7,"yr":82},
      {"mpg":32,"cyl":4,"disp":144,"hp":96,"wt":2665,"acc":13.9,"yr":82},
      {"mpg":36,"cyl":4,"disp":135,"hp":84,"wt":2370,"acc":13,"yr":82},
      {"mpg":27,"cyl":4,"disp":151,"hp":90,"wt":2950,"acc":17.3,"yr":82},
      {"mpg":27,"cyl":4,"disp":140,"hp":86,"wt":2790,"acc":15.6,"yr":82},
      {"mpg":44,"cyl":4,"disp":97,"hp":52,"wt":2130,"acc":24.6,"yr":82},
      {"mpg":32,"cyl":4,"disp":135,"hp":84,"wt":2295,"acc":11.6,"yr":82},
      {"mpg":28,"cyl":4,"disp":120,"hp":79,"wt":2625,"acc":18.6,"yr":82},
      {"mpg":31,"cyl":4,"disp":119,"hp":82,"wt":2720,"acc":19.4,"yr":82}
    ]
  },
  "encoding": {
    "x": {
      "field": "title",
      "type": "nominal",
      "sort": ["economy (mpg)", "cylinders", "displacement (cc)", "power (hp)", "weight (lb)", "0-60 mph (s)", "year"],
      "scale": {"type": "point", "padding": 0.58},
      "axis": null
    }
  },
  "layer": [
    {
      "data": {"name": "cars"},
      "transform": [
        {"window": [{"op": "row_number", "as": "id"}]},
        {"fold": ["mpg", "cyl", "disp", "hp", "wt", "acc", "yr"], "as": ["f", "v"]},
        {"lookup": "f", "from": {"data": {"name": "dims"}, "key": "f", "fields": ["title", "idx", "min", "max"]}},
        {"calculate": "(datum.v - datum.min) / (datum.max - datum.min)", "as": "norm"}
      ],
      "mark": {"type": "line", "strokeWidth": 0.9, "strokeOpacity": 0.22},
      "encoding": {
        "y": {"field": "norm", "type": "quantitative", "scale": {"domain": [-0.021875, 1.0625]}, "axis": null},
        "detail": {"field": "id", "type": "nominal"},
        "order": {"field": "idx", "type": "quantitative"},
        "color": {"condition": {"test": "datum.yr == 70", "value": "#6b7780"}, "value": "#2470aa"}
      }
    },
    {
      "data": {"name": "dims"},
      "mark": {"type": "rule", "color": "#333333", "strokeWidth": 1},
      "encoding": {
        "y": {"datum": 0, "type": "quantitative", "scale": {"domain": [-0.021875, 1.0625]}, "axis": null},
        "y2": {"datum": 1}
      }
    },
    {
      "data": {"name": "dims"},
      "mark": {"type": "tick", "orient": "horizontal", "size": 4.5, "thickness": 1, "xOffset": -2.25, "color": "#333333", "opacity": 1},
      "encoding": {
        "y": {"datum": 0, "type": "quantitative", "scale": {"domain": [-0.021875, 1.0625]}, "axis": null}
      }
    },
    {
      "data": {"name": "dims"},
      "mark": {"type": "tick", "orient": "horizontal", "size": 4.5, "thickness": 1, "xOffset": -2.25, "color": "#333333", "opacity": 1},
      "encoding": {
        "y": {"datum": 1, "type": "quantitative", "scale": {"domain": [-0.021875, 1.0625]}, "axis": null}
      }
    },
    {
      "data": {"name": "ticks"},
      "transform": [
        {"lookup": "f", "from": {"data": {"name": "dims"}, "key": "f", "fields": ["title", "idx", "min", "max"]}},
        {"calculate": "(datum.v - datum.min) / (datum.max - datum.min)", "as": "norm"},
        {"calculate": "datum.f === 'cyl' ? format(datum.v, '.1f') : format(datum.v, ',')", "as": "label"}
      ],
      "layer": [
        {
          "mark": {"type": "tick", "orient": "horizontal", "size": 4.5, "thickness": 1, "xOffset": -2.25, "color": "#333333", "opacity": 1}
        },
        {
          "mark": {"type": "text", "align": "right", "baseline": "middle", "dx": -6.5, "font": "Liberation Sans", "fontSize": 7.5, "stroke": "white", "strokeWidth": 2, "strokeJoin": "round", "fill": "white"},
          "encoding": {"text": {"field": "label"}}
        },
        {
          "mark": {"type": "text", "align": "right", "baseline": "middle", "dx": -6.5, "font": "Liberation Sans", "fontSize": 7.5, "fill": "#222222"},
          "encoding": {"text": {"field": "label"}}
        }
      ],
      "encoding": {
        "y": {"field": "norm", "type": "quantitative", "scale": {"domain": [-0.021875, 1.0625]}, "axis": null}
      }
    },
    {
      "data": {"name": "dims"},
      "mark": {"type": "text", "align": "center", "baseline": "alphabetic", "font": "Liberation Sans", "fontSize": 7.5, "fill": "#222222"},
      "encoding": {
        "y": {"datum": 1.0203, "type": "quantitative", "scale": {"domain": [-0.021875, 1.0625]}, "axis": null},
        "text": {"field": "title"}
      }
    }
  ]
}
